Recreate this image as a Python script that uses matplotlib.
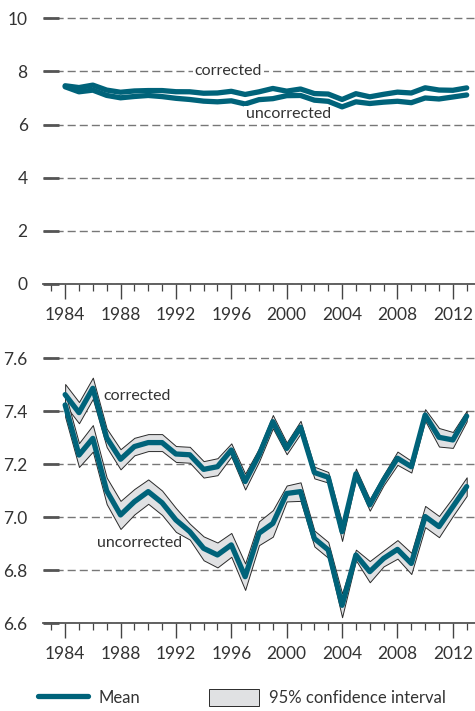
import matplotlib
matplotlib.use("Agg")
import matplotlib.pyplot as plt
from matplotlib.ticker import MultipleLocator, FormatStrFormatter
from matplotlib.lines import Line2D
from matplotlib.patches import Patch

plt.rcParams['font.family'] = ['Lato', 'DejaVu Sans']
plt.rcParams['font.size'] = 12

# data
years = list(range(1984, 2014))
corr_mean = [7.463, 7.395, 7.487, 7.30, 7.219, 7.267, 7.282, 7.282, 7.239, 7.236,
             7.181, 7.191, 7.254, 7.135, 7.235, 7.361, 7.260, 7.340, 7.169, 7.151,
             6.946, 7.164, 7.047, 7.141, 7.223, 7.191, 7.386, 7.302, 7.292, 7.382]
corr_hw = [0.040, 0.040, 0.040, 0.035, 0.038, 0.033, 0.032, 0.032, 0.030, 0.030,
           0.031, 0.032, 0.025, 0.030, 0.025, 0.025, 0.022, 0.024, 0.022, 0.020,
           0.035, 0.020, 0.022, 0.020, 0.025, 0.022, 0.022, 0.035, 0.030, 0.020]
unc_mean = [7.424, 7.235, 7.298, 7.100, 7.009, 7.059, 7.097, 7.055, 6.990, 6.946,
            6.883, 6.858, 6.896, 6.776, 6.940, 6.977, 7.090, 7.097, 6.920, 6.877,
            6.668, 6.858, 6.795, 6.845, 6.879, 6.826, 7.003, 6.965, 7.040, 7.116]
unc_hw = [0.045, 0.045, 0.050, 0.050, 0.053, 0.048, 0.046, 0.046, 0.045, 0.030,
          0.045, 0.047, 0.045, 0.050, 0.045, 0.050, 0.030, 0.035, 0.030, 0.030,
          0.045, 0.020, 0.040, 0.030, 0.035, 0.040, 0.040, 0.040, 0.035, 0.035]

teal = '#00637a'
band = '#e0e1e3'
txt = '#333333'

fig = plt.figure(figsize=(4.75, 7.11), dpi=100)
ax1 = fig.add_axes([0.0905, 0.6006, 0.9095, 0.3829])
ax2 = fig.add_axes([0.0905, 0.1233, 0.9095, 0.3802])


def style(ax):
    for s in ['top', 'right', 'left']:
        ax.spines[s].set_visible(False)
    ax.spines['bottom'].set_color('#555555')
    ax.spines['bottom'].set_linewidth(1.3)
    ax.set_xlim(1982.4, 2013.6)
    ax.xaxis.set_major_locator(MultipleLocator(4))
    ax.xaxis.set_minor_locator(MultipleLocator(1))
    ax.tick_params(axis='x', which='major', direction='out', length=10.5, width=1,
                   color='#444444', labelcolor=txt, labelsize=12.5, pad=6)
    ax.tick_params(axis='x', which='minor', direction='out', length=5, width=0.9,
                   color='#444444')
    ax.tick_params(axis='y', direction='in', length=11.5, width=2,
                   color='#555555', labelcolor=txt, labelsize=12.5, pad=11)
    ax.grid(axis='y', color='#777777', linestyle=(0, (5.8, 2.9)), linewidth=1.0)
    ax.set_axisbelow(True)


# top panel: full scale
style(ax1)
ax1.set_ylim(0, 10.25)
ax1.set_yticks([0, 2, 4, 6, 8, 10])
ax1.plot(years, corr_mean, color=teal, lw=3.8, solid_capstyle='round', zorder=3)
ax1.plot(years, unc_mean, color=teal, lw=3.8, solid_capstyle='round', zorder=3)
ax1.text(1995.8, 8.0, 'corrected', ha='center', va='center', color=txt,
         fontsize=11.5, bbox=dict(facecolor='white', edgecolor='none', pad=1), zorder=4)
ax1.text(2000.1, 6.4, 'uncorrected', ha='center', va='center', color=txt,
         fontsize=11.5, bbox=dict(facecolor='white', edgecolor='none', pad=1), zorder=4)

# bottom panel: zoomed with confidence bands
style(ax2)
ax2.set_ylim(6.6, 7.62)
ax2.set_yticks([6.6, 6.8, 7.0, 7.2, 7.4, 7.6])
ax2.yaxis.set_major_formatter(FormatStrFormatter('%.1f'))
for m, hw in [(corr_mean, corr_hw), (unc_mean, unc_hw)]:
    lo = [a - b for a, b in zip(m, hw)]
    hi = [a + b for a, b in zip(m, hw)]
    ax2.fill_between(years, lo, hi, facecolor=band, edgecolor='#2a2a2a',
                     linewidth=0.7, zorder=2)
    ax2.plot(years, m, color=teal, lw=3.8, solid_capstyle='round', zorder=3)
ax2.text(1989.2, 7.458, 'corrected', ha='center', va='center', color=txt, fontsize=11.5)
ax2.text(1989.4, 6.904, 'uncorrected', ha='center', va='center', color=txt, fontsize=11.5)

handles = [Line2D([], [], color=teal, lw=3.8, solid_capstyle='round'),
           Patch(facecolor=band, edgecolor='#2a2a2a', linewidth=0.7)]
fig.legend(handles, ['Mean', '95% confidence interval'], loc='center left',
           bbox_to_anchor=(0.0625, 0.0185), ncol=2, frameon=False, borderpad=0,
           handlelength=3, handleheight=1.2, handletextpad=0.6, columnspacing=4.15,
           labelcolor=txt)

fig.savefig('out.png', dpi=100)
